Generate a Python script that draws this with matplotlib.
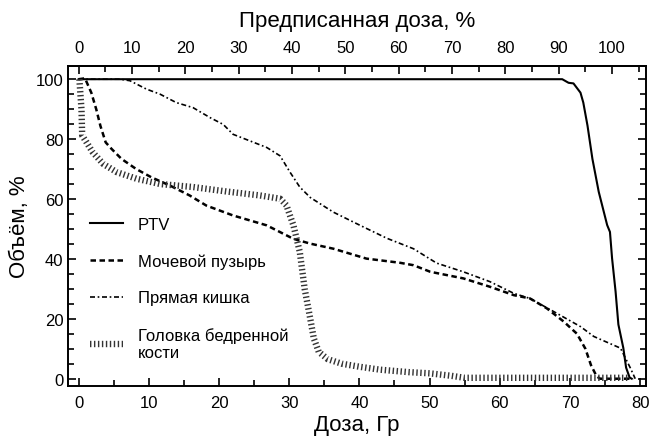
import matplotlib
matplotlib.use("Agg")
import matplotlib.pyplot as plt
from matplotlib.ticker import MultipleLocator, FixedLocator

plt.rcParams['font.family'] = ['Liberation Sans', 'DejaVu Sans']

# prescribed dose, Gy (100 % on the top axis)
rx_dose = 76.0

ptv_dose = [0.0, 10, 30, 50, 68.9, 69.8, 70.5, 71.5, 71.9, 72.5, 73.2, 74.1, 75.3, 75.7,
            76.0, 76.5, 76.9, 77.6, 78.0, 78.5, 78.8]
ptv_vol = [100, 100, 100, 100, 100, 98.8, 98.6, 95.5, 92.2, 84.5, 73.4, 62.4, 51.3, 49.0,
           40.2, 29.1, 18.1, 10.3, 3.7, 0.4, 0.0]

bladder_dose = [0.0, 0.9, 1.8, 2.5, 3.1, 3.85, 4.7, 6.1, 8.2, 10.4, 13.0, 15.8, 18.2, 22.0,
                26.8, 30.6, 33.0, 36.3, 41.0, 45.8, 47.7, 50.1, 54.8, 58.6, 62.0, 64.3,
                66.7, 69.1, 71.0, 72.2, 73.0, 73.8, 74.3, 79.0]
bladder_vol = [100, 100.3, 95.5, 90.0, 84.4, 78.9, 76.7, 73.4, 70.0, 67.2, 64.5, 61.2, 57.8,
               54.5, 51.2, 46.7, 45.1, 43.4, 40.1, 38.7, 37.9, 35.7, 33.5, 30.7, 27.9, 26.8,
               23.5, 19.1, 15.0, 10.0, 4.5, 0.8, 0.0, 0.0]

rectum_dose = [0.0, 5.9, 7.3, 9.65, 11.6, 13.9, 16.3, 18.7, 20.6, 22.0, 24.4, 26.8, 28.7,
               30.1, 31.5, 33.0, 36.3, 40.1, 43.9, 47.7, 51.0, 54.8, 58.6, 62.0, 64.3, 67.7,
               71.5, 73.4, 77.2, 78.6, 79.3]
rectum_vol = [100, 100, 99.5, 96.7, 95.0, 92.2, 90.5, 87.2, 84.9, 81.6, 79.4, 77.2, 74.4,
              69.0, 64.0, 60.5, 55.6, 51.2, 46.9, 43.4, 38.6, 35.7, 32.4, 28.5, 26.8, 22.4,
              17.4, 14.1, 10.2, 3.6, 0.0]

femur_dose = [0.1, 0.4, 0.5, 1.1, 2.0, 3.5, 5.4, 8.2, 11.6, 16.3, 21.1, 25.8, 28.7, 29.6,
              30.6, 31.5, 32.2, 33.0, 33.5, 34.2, 35.5, 37.5, 40.0, 43.0, 47.0, 50.0, 53.0,
              55.0, 78.5]
femur_vol = [100, 90, 81.2, 79, 75.6, 71.7, 69.0, 66.8, 65.0, 64.0, 62.5, 61.2, 60.1, 57.9,
             51.2, 42.4, 30.0, 20.0, 13.5, 9.0, 6.5, 5.0, 4.0, 3.0, 2.2, 1.8, 1.0, 0.3, 0.3]

top_ticks = [0, 10, 20, 30, 40, 50, 60, 70, 80, 90, 100]

labels = ["PTV", "Мочевой пузырь", "Прямая кишка", "Головка бедренной\nкости"]


def main():
    fig = plt.figure(figsize=(6.49, 4.39), dpi=100)
    ax = fig.add_axes([0.105, 0.118, 0.89, 0.73])

    ax.plot(ptv_dose, ptv_vol, color="black", lw=1.5, label=labels[0])
    ax.plot(bladder_dose, bladder_vol, color="black", lw=1.8,
            linestyle=(0, (2.2, 1.4)), label=labels[1])
    ax.plot(rectum_dose, rectum_vol, color="black", lw=1.2,
            linestyle=(0, (3, 1.6, 1, 1.6)), label=labels[2])
    ax.plot(femur_dose, femur_vol, color="#333333", lw=4.6,
            linestyle=(0, (0.22, 0.4)), dash_capstyle="butt", label=labels[3])

    ax.set_xlim(-1.5, 80.8)
    ax.set_ylim(-2.5, 104.5)
    ax.xaxis.set_major_locator(MultipleLocator(10))
    ax.xaxis.set_minor_locator(MultipleLocator(5))
    ax.yaxis.set_major_locator(MultipleLocator(20))
    ax.yaxis.set_minor_locator(MultipleLocator(5))
    ax.tick_params(which="both", direction="in", right=True, width=1.2, labelsize=12)
    ax.tick_params(axis="x", which="both", pad=6.5)
    ax.tick_params(which="major", length=6)
    ax.tick_params(which="minor", length=4)
    for s in ax.spines.values():
        s.set_linewidth(1.4)

    ax.set_xlabel("Доза, Гр", fontsize=16, labelpad=3)
    ax.set_ylabel("Объём, %", fontsize=16, labelpad=4)

    top = ax.secondary_xaxis("top", functions=(lambda d: d / rx_dose * 100,
                                               lambda p: p * rx_dose / 100))
    top.xaxis.set_major_locator(FixedLocator(top_ticks))
    top.xaxis.set_minor_locator(MultipleLocator(5))
    top.tick_params(which="both", direction="in", width=1.2, labelsize=12, pad=8)
    top.tick_params(which="major", length=6)
    top.tick_params(which="minor", length=4)
    top.spines["top"].set_linewidth(1.4)
    top.set_xlabel("Предписанная доза, %", fontsize=16, labelpad=10)

    ax.legend(loc="center left", bbox_to_anchor=(0.009, 0.305), frameon=False,
              fontsize=12, handlelength=2.0, handletextpad=0.85, labelspacing=1.3,
              borderaxespad=0.6)

    fig.savefig("out.png", dpi=100)


if __name__ == "__main__":
    main()
